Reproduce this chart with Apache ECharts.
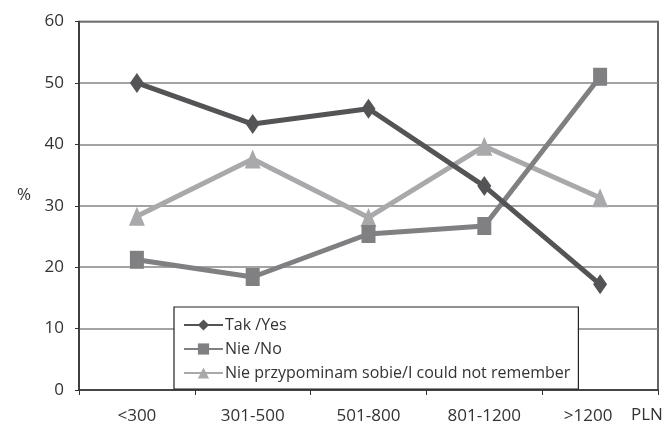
<!DOCTYPE html>
<html><head><meta charset="utf-8">
<script src="https://cdn.jsdelivr.net/npm/echarts@6/dist/echarts.min.js"></script>
<style>html,body{margin:0;padding:0;background:#fff}#c{width:663px;height:425px}</style>
</head><body><div id="c"></div>
<script>
const categories = ['<300', '301-500', '501-800', '801-1200', '>1200'];
const yesValues = [50, 43.3, 45.8, 33.2, 17.2];
const noValues = [21.2, 18.4, 25.4, 26.7, 51.0];
const notRememberValues = [28.3, 37.6, 28.1, 39.7, 31.3];
const seriesNames = ['Tak /Yes', 'Nie /No', 'Nie przypominam sobie/I could not remember'];
const yTicks = [0, 10, 20, 30, 40, 50, 60];
const yUnit = '%';
const xUnit = 'PLN';

const FONT = '"Open Sans", "DejaVu Sans", sans-serif';
const chart = echarts.init(document.getElementById('c'), null, {renderer: 'canvas'});
const xData = categories.map((c, i) => i === categories.length - 1
  ? {value: c, textStyle: {padding: [0, 24, 0, 0]}} : c);
chart.setOption({
  animation: false,
  backgroundColor: '#fff',
  grid: {left: 79, right: 5, top: 21.5, bottom: 33.5, show: true, borderColor: '#333', borderWidth: 1.5, backgroundColor: 'transparent'},
  xAxis: {
    type: 'category', data: xData, boundaryGap: true,
    axisLine: {lineStyle: {color: '#333', width: 1.5}},
    axisTick: {show: true, alignWithLabel: false, length: 5, lineStyle: {color: '#333'}},
    axisLabel: {color: '#333', fontFamily: FONT, fontSize: 17, margin: 18}
  },
  yAxis: {
    type: 'value', min: yTicks[0], max: yTicks[yTicks.length - 1], interval: 10,
    axisLine: {show: true, lineStyle: {color: '#333', width: 1.5}},
    axisTick: {show: true, length: 4, lineStyle: {color: '#333'}},
    axisLabel: {color: '#333', fontFamily: FONT, fontSize: 17, margin: 15},
    splitLine: {lineStyle: {color: '#858585', width: 1.5}}
  },
  legend: {
    orient: 'vertical', left: 174, top: 307,
    backgroundColor: '#fff', borderColor: '#222', borderWidth: 1.2,
    padding: [10, 8, 8, 9], itemGap: 8, itemWidth: 39, itemHeight: 14,
    textStyle: {color: '#333', fontFamily: FONT, fontSize: 16, padding: [0, 0, 0, -3]},
    data: seriesNames
  },
  series: [
    {name: seriesNames[0], type: 'line', data: yesValues, symbol: 'diamond', symbolSize: [14, 20],
     lineStyle: {color: '#545456', width: 5}, itemStyle: {color: '#545456'}, z: 3},
    {name: seriesNames[1], type: 'line', data: noValues, symbol: 'rect', symbolSize: [14, 18],
     lineStyle: {color: '#808083', width: 5}, itemStyle: {color: '#808083'}, z: 2},
    {name: seriesNames[2], type: 'line', data: notRememberValues, symbol: 'triangle', symbolSize: [16, 19],
     lineStyle: {color: '#a9a9ac', width: 5}, itemStyle: {color: '#a9a9ac'}, z: 1}
  ],
  graphic: [
    {type: 'text', left: 631, top: 407, style: {text: xUnit, fill: '#333', font: '17px ' + FONT}},
    {type: 'text', left: 17, top: 187, style: {text: yUnit, fill: '#333', font: '17px ' + FONT}}
  ]
});
</script></body></html>
